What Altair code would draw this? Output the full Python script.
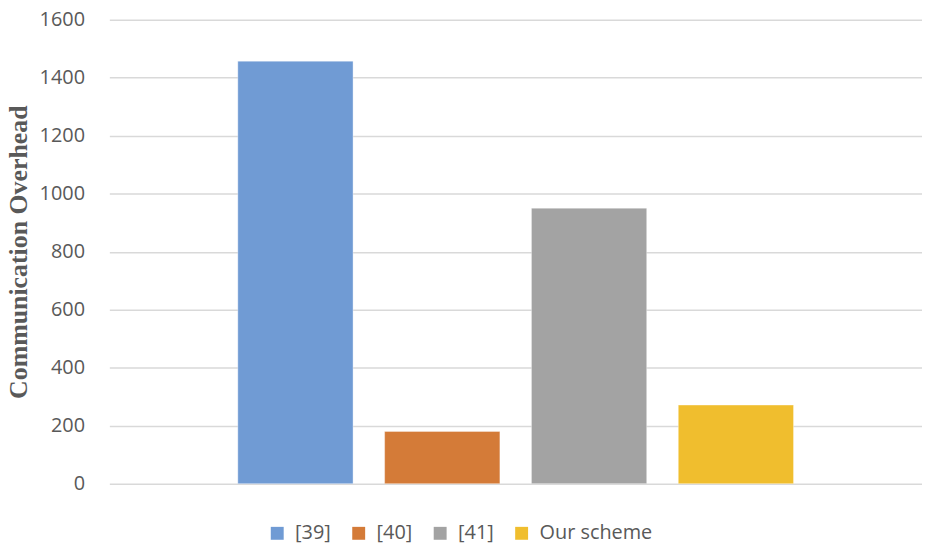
import altair as alt
import pandas as pd

series = ["[39]", "[40]", "[41]", "Our scheme"]
values = [1457, 180, 950, 271]
colors = ["#709bd4", "#d47b38", "#a3a3a3", "#f0be2e"]
y_ticks = [0, 200, 400, 600, 800, 1000, 1200, 1400, 1600]

df = pd.DataFrame({"series": series, "value": values})

chart = alt.Chart(df).mark_bar(
    stroke="white", strokeWidth=0.8, strokeOpacity=0.45
).encode(
    x=alt.X("series:N", sort=series, axis=None,
            scale=alt.Scale(paddingInner=0.215, paddingOuter=0.875)),
    y=alt.Y("value:Q",
            scale=alt.Scale(domain=[0, 1600], nice=False),
            axis=alt.Axis(values=y_ticks, format="d",
                          title="Communication Overhead",
                          titleFont="Liberation Serif", titleFontSize=26,
                          titleFontWeight="bold", titleColor="#595959",
                          titlePadding=8, labelPadding=25,
                          labelFont="Open Sans", labelFontSize=20,
                          labelColor="#595959", ticks=False, domain=False,
                          gridColor="#d9d9d9", gridWidth=1.5)),
    color=alt.Color("series:N", sort=series,
                    scale=alt.Scale(domain=series, range=colors),
                    legend=alt.Legend(title=None, orient="none",
                                      legendX=159, legendY=507,
                                      direction="horizontal",
                                      symbolType="square", symbolSize=169,
                                      symbolStrokeWidth=0,
                                      labelFont="Open Sans", labelFontSize=20,
                                      labelColor="#595959", columnPadding=18,
                                      labelOffset=8, padding=0)),
).properties(
    width=818, height=467,
    autosize=alt.AutoSizeParams(type="none"),
    padding={"left": 102, "top": 10, "right": 0, "bottom": 60},
).configure_view(stroke=None)

chart.save("out.html", embed_options={"renderer": "svg", "actions": False})
